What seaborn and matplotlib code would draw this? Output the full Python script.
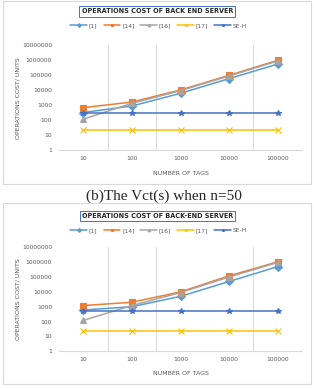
import numpy as np
import pandas as pd
import matplotlib
matplotlib.use('Agg')
import matplotlib.pyplot as plt
import matplotlib.patches as patches
import seaborn as sns

sns.set_style('white')
plt.rcParams['font.family'] = ['DejaVu Sans']

tags = ['10', '100', '1000', '10000', '100000']
series = ['[1]', '[14]', '[16]', '[17]', 'SE-H']

# panel (b): n = 50
top_1 = [330, 900, 6300, 60000, 560000]
top_14 = [700, 1650, 10500, 100000, 1000000]
top_16 = [120, 1350, 9500, 90000, 900000]
top_17 = [23, 23, 23, 23, 23]
top_seh = [300, 300, 300, 300, 300]

# lower panel
bot_1 = [600, 1000, 5000, 50000, 500000]
bot_14 = [1200, 2000, 10000, 120000, 1050000]
bot_16 = [120, 1200, 9000, 100000, 950000]
bot_17 = [25, 25, 25, 25, 25]
bot_seh = [500, 500, 500, 500, 500]

colors = {'[1]': '#5B9BD5', '[14]': '#ED7D31', '[16]': '#A5A5A5',
          '[17]': '#FFC000', 'SE-H': '#4472C4'}
marks = {'[1]': 'D', '[14]': 's', '[16]': '^', '[17]': 'x', 'SE-H': '*'}
grey = '#595959'


def make_df(vals):
    rows = []
    for name, v in zip(series, vals):
        for i, y in enumerate(v):
            rows.append({'pos': i, 'cost': y, 'series': name})
    return pd.DataFrame(rows)


def draw(ax, df, title, leg_y, xl_y):
    for name in series:
        sub = df[df['series'] == name]
        sns.lineplot(data=sub, x='pos', y='cost', color=colors[name],
                     marker=marks[name], ax=ax, label=name,
                     linewidth=1.1, markersize=3.8, markeredgewidth=0.8,
                     markeredgecolor=colors[name])
    ax.set_yscale('log')
    ax.set_ylim(1, 1e7)
    ax.set_xlim(-0.5, 4.5)
    ax.set_yticks([10 ** k for k in range(8)])
    ax.set_yticklabels([str(10 ** k) for k in range(8)])
    ax.minorticks_off()
    ax.set_xticks(range(len(tags)))
    ax.set_xticklabels(tags)
    ax.tick_params(length=0, labelsize=4.3, labelcolor=grey)
    ax.tick_params(axis='x', pad=4)
    ax.tick_params(axis='y', pad=5)
    for b in [0.5, 1.5, 3.5]:
        ax.axvline(b, color='#d9d9d9', lw=0.7, zorder=0)
    for s in ['top', 'left', 'right']:
        ax.spines[s].set_visible(False)
    ax.spines['bottom'].set_color('#d9d9d9')
    ax.spines['bottom'].set_linewidth(0.8)
    ax.set_xlabel('NUMBER OF TAGS', fontsize=4.5, color=grey)
    ax.xaxis.set_label_coords(0.5, xl_y)
    ax.set_ylabel('OPERATIONS COST/ UNITS', fontsize=4.5, color=grey)
    ax.yaxis.set_label_coords(-0.16, 0.5)
    ax.legend(loc='center', bbox_to_anchor=(0.41, leg_y), ncol=5, frameon=False,
              fontsize=4.3, handlelength=2.8, columnspacing=1.0, handletextpad=0.3,
              labelcolor=grey, markerscale=0.5)
    ax.text(0.405, leg_y + 0.14, title, transform=ax.transAxes, ha='center',
            va='center', fontsize=4.7, fontweight='bold', color='#262626',
            bbox=dict(boxstyle='square,pad=0.35', fc='white', ec='#4472C4', lw=0.7))


fig = plt.figure(figsize=(3.14, 3.88), dpi=100)

W, H = 314, 388
for (y0, y1) in [(1, 184), (203, 384)]:
    fig.patches.append(patches.Rectangle((3 / W, 1 - y1 / H), 308 / W, (y1 - y0) / H,
                                         transform=fig.transFigure, fill=False,
                                         ec='#d9d9d9', lw=0.8))

ax1 = fig.add_axes([59 / W, 1 - 150.3 / H, 243 / W, 105 / H])
ax2 = fig.add_axes([59 / W, 1 - 351.3 / H, 243 / W, 104 / H])

draw(ax1, make_df([top_1, top_14, top_16, top_17, top_seh]),
     'OPERATIONS COST OF BACK END SERVER', 1.184, -0.2)
draw(ax2, make_df([bot_1, bot_14, bot_16, bot_17, bot_seh]),
     'OPERATIONS COST OF BACK-END SERVER', 1.16, -0.19)

fig.text(164 / W, 1 - 196 / H, '(b)The Vct(s) when n=50', ha='center', va='center',
         fontsize=11, family='Liberation Serif')

fig.savefig('out.png', dpi=100)
